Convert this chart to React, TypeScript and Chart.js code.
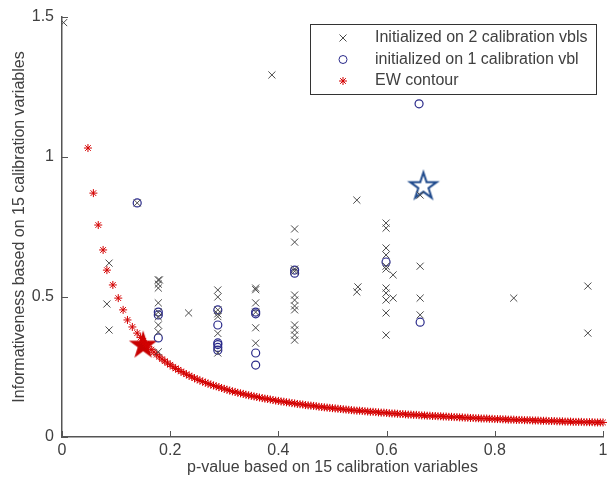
import React, { useEffect, useRef } from 'react';
import { Chart, registerables } from 'chart.js';
Chart.register(...registerables);

// ---- data ----
const xTickValues = [0, 0.2, 0.4, 0.6, 0.8, 1];
const yTickValues = [0, 0.5, 1, 1.5];

const legendLabels = [
  'Initialized on 2 calibration vbls',
  'initialized on 1 calibration vbl',
  'EW contour',
];

const twoVblP = [
  0.003, 0.388, 0.139, 0.087, 0.083, 0.087, 0.234,
  0.178, 0.18, 0.178, 0.178, 0.178, 0.178, 0.178, 0.178, 0.178, 0.178,
  0.288, 0.288, 0.288, 0.288, 0.288, 0.288, 0.288,
  0.358, 0.358, 0.358, 0.358, 0.358, 0.358,
  0.43, 0.43, 0.43, 0.43, 0.43, 0.43, 0.43, 0.43, 0.43, 0.43, 0.43, 0.43,
  0.545, 0.547, 0.545,
  0.599, 0.599, 0.599, 0.599, 0.599, 0.599, 0.599, 0.599, 0.599, 0.599, 0.599,
  0.612, 0.612,
  0.662, 0.662, 0.662, 0.662,
  0.835, 0.972, 0.972,
];
const twoVblInf = [
  1.48, 1.293, 0.836, 0.621, 0.475, 0.382, 0.443,
  0.561, 0.561, 0.546, 0.532, 0.479, 0.446, 0.429, 0.4, 0.375, 0.304,
  0.525, 0.5, 0.454, 0.43, 0.37, 0.44, 0.3,
  0.532, 0.526, 0.479, 0.446, 0.39, 0.335,
  0.743, 0.696, 0.6, 0.592, 0.507, 0.489, 0.468, 0.454, 0.4, 0.382, 0.364, 0.346,
  0.846, 0.536, 0.518,
  0.764, 0.746, 0.675, 0.65, 0.61, 0.6, 0.532, 0.514, 0.489, 0.443, 0.364,
  0.579, 0.496,
  0.864, 0.61, 0.496, 0.436,
  0.496, 0.539, 0.371,
];

const oneVblP = [
  0.139, 0.66,
  0.178, 0.178, 0.178,
  0.288, 0.288, 0.288, 0.288, 0.288, 0.288,
  0.358, 0.358, 0.358, 0.358,
  0.43, 0.43,
  0.599, 0.662,
];
const oneVblInf = [
  0.836, 1.19,
  0.446, 0.436, 0.354,
  0.454, 0.4, 0.336, 0.33, 0.31, 0.32,
  0.446, 0.44, 0.3, 0.257,
  0.596, 0.585,
  0.625, 0.41,
];

const ewP = [
  0.048, 0.058, 0.067, 0.076, 0.083, 0.094, 0.104, 0.113, 0.121, 0.13, 0.139,
  0.15, 0.16, 0.17, 0.18, 0.19, 0.2, 0.21, 0.22, 0.23, 0.24, 0.25, 0.26, 0.27, 0.28, 0.29,
  0.3, 0.31, 0.32, 0.33, 0.34, 0.35, 0.36, 0.37, 0.38, 0.39,
  0.4, 0.41, 0.42, 0.43, 0.44, 0.45, 0.46, 0.47, 0.48, 0.49,
  0.5, 0.51, 0.52, 0.53, 0.54, 0.55, 0.56, 0.57, 0.58, 0.59,
  0.6, 0.61, 0.62, 0.63, 0.64, 0.65, 0.66, 0.67, 0.68, 0.69,
  0.7, 0.71, 0.72, 0.73, 0.74, 0.75, 0.76, 0.77, 0.78, 0.79,
  0.8, 0.81, 0.82, 0.83, 0.84, 0.85, 0.86, 0.87, 0.88, 0.89,
  0.9, 0.91, 0.92, 0.93, 0.94, 0.95, 0.96, 0.97, 0.98, 0.99, 1.0,
];
const ewInf = [
  1.032, 0.871, 0.757, 0.668, 0.596, 0.543, 0.496, 0.454, 0.418, 0.393, 0.371,
  0.343, 0.322, 0.303, 0.286, 0.271, 0.258, 0.245, 0.234, 0.224, 0.215, 0.206, 0.198, 0.191, 0.184, 0.178,
  0.172, 0.166, 0.161, 0.156, 0.151, 0.147, 0.143, 0.139, 0.136, 0.132,
  0.129, 0.126, 0.123, 0.12, 0.117, 0.114, 0.112, 0.11, 0.107, 0.105,
  0.103, 0.101, 0.099, 0.097, 0.095, 0.094, 0.092, 0.09, 0.089, 0.087,
  0.086, 0.084, 0.083, 0.082, 0.08, 0.079, 0.078, 0.077, 0.076, 0.075,
  0.074, 0.073, 0.072, 0.071, 0.07, 0.069, 0.068, 0.067, 0.066, 0.065,
  0.064, 0.064, 0.063, 0.062, 0.061, 0.061, 0.06, 0.059, 0.059, 0.058,
  0.057, 0.057, 0.056, 0.055, 0.055, 0.054, 0.054, 0.053, 0.053, 0.052, 0.052,
];
// the denser half of the contour band
const ewP2 = [
  0.145, 0.155, 0.165, 0.175, 0.185, 0.195, 0.205, 0.215, 0.225, 0.235, 0.245,
  0.255, 0.265, 0.275, 0.285, 0.295, 0.305, 0.315, 0.325, 0.335, 0.345,
  0.355, 0.365, 0.375, 0.385, 0.395, 0.405, 0.415, 0.425, 0.435, 0.445,
  0.455, 0.465, 0.475, 0.485, 0.495, 0.505, 0.515, 0.525, 0.535, 0.545,
  0.555, 0.565, 0.575, 0.585, 0.595, 0.605, 0.615, 0.625, 0.635, 0.645,
  0.655, 0.665, 0.675, 0.685, 0.695, 0.705, 0.715, 0.725, 0.735, 0.745,
  0.755, 0.765, 0.775, 0.785, 0.795, 0.805, 0.815, 0.825, 0.835, 0.845,
  0.855, 0.865, 0.875, 0.885, 0.895, 0.905, 0.915, 0.925, 0.935, 0.945,
  0.955, 0.965, 0.975, 0.985, 0.995,
];
const ewInf2 = [
  0.355, 0.332, 0.312, 0.294, 0.278, 0.264, 0.251, 0.24, 0.229, 0.219, 0.21,
  0.202, 0.194, 0.187, 0.181, 0.175, 0.169, 0.163, 0.158, 0.154, 0.149,
  0.145, 0.141, 0.137, 0.134, 0.13, 0.127, 0.124, 0.121, 0.118, 0.116,
  0.113, 0.111, 0.108, 0.106, 0.104, 0.102, 0.1, 0.098, 0.096, 0.094,
  0.093, 0.091, 0.09, 0.088, 0.087, 0.085, 0.084, 0.082, 0.081, 0.08,
  0.079, 0.077, 0.076, 0.075, 0.074, 0.073, 0.072, 0.071, 0.07, 0.069,
  0.068, 0.067, 0.066, 0.066, 0.065, 0.064, 0.063, 0.062, 0.062, 0.061,
  0.06, 0.06, 0.059, 0.058, 0.058, 0.057, 0.056, 0.056, 0.055, 0.054,
  0.054, 0.053, 0.053, 0.052, 0.052,
];

const redStarP = [0.15];
const redStarInf = [0.327];
const blueStarP = [0.668];
const blueStarInf = [0.895];

const xTitle = 'p-value based on 15 calibration variables';
const yTitle = 'Informativeness based on 15 calibration variables';

// ---- styles ----
const CROSS_COLOR = '#4a4a4a';
const CIRCLE_COLOR = '#2a2a8a';
const EW_COLOR = '#d40000';
const AXIS_COLOR = '#555555';
const TEXT_COLOR = '#404040';
const FONT_FAMILY = '"Liberation Sans", Arial, sans-serif';
const FONT_SIZE = 16;

function makeStar(R: number, fill: string | null, stroke: string | null, lw: number) {
  const pad = Math.ceil(lw) + 2;
  const size = Math.ceil(2 * R + 2 * pad);
  const c = document.createElement('canvas');
  c.width = size;
  c.height = size;
  const ctx = c.getContext('2d')!;
  const cx = size / 2;
  const cy = size / 2;
  const r = R * 0.382;
  ctx.beginPath();
  for (let i = 0; i < 10; i++) {
    const ang = -Math.PI / 2 + (i * Math.PI) / 5;
    const rr = i % 2 === 0 ? R : r;
    const px = cx + rr * Math.cos(ang);
    const py = cy + rr * Math.sin(ang);
    if (i === 0) ctx.moveTo(px, py);
    else ctx.lineTo(px, py);
  }
  ctx.closePath();
  if (fill) {
    ctx.fillStyle = fill;
    ctx.fill();
  }
  if (stroke) {
    ctx.strokeStyle = stroke;
    ctx.lineWidth = lw;
    ctx.lineJoin = 'miter';
    ctx.stroke();
  }
  return c;
}

const zip = (xs: number[], ys: number[]) => xs.map((x, i) => ({ x, y: ys[i] }));

const inwardTicksPlugin = {
  id: 'inwardTicks',
  afterDraw(chart: any) {
    const { ctx, chartArea, scales } = chart;
    ctx.save();
    ctx.strokeStyle = AXIS_COLOR;
    ctx.lineWidth = 1;
    ctx.beginPath();
    xTickValues.forEach((v) => {
      const px = Math.round(scales.x.getPixelForValue(v)) + 0.5;
      ctx.moveTo(px, chartArea.bottom);
      ctx.lineTo(px, chartArea.bottom - 6);
    });
    yTickValues.forEach((v) => {
      const py = Math.round(scales.y.getPixelForValue(v)) + 0.5;
      ctx.moveTo(chartArea.left, py);
      ctx.lineTo(chartArea.left + 6, py);
    });
    ctx.stroke();
    ctx.restore();
  },
};

const legendBoxPlugin = {
  id: 'legendBox',
  afterDraw(chart: any) {
    const { ctx } = chart;
    const left = 310.5;
    const top = 24.5;
    const w = 286;
    const h = 70;
    ctx.save();
    ctx.fillStyle = '#ffffff';
    ctx.fillRect(left, top, w, h);
    ctx.strokeStyle = '#333333';
    ctx.lineWidth = 1;
    ctx.strokeRect(left, top, w, h);
    const mx = 343;
    const rows = [38, 59.5, 81];
    ctx.strokeStyle = CROSS_COLOR;
    ctx.beginPath();
    const d = 3.5;
    ctx.moveTo(mx - d, rows[0] - d);
    ctx.lineTo(mx + d, rows[0] + d);
    ctx.moveTo(mx - d, rows[0] + d);
    ctx.lineTo(mx + d, rows[0] - d);
    ctx.stroke();
    ctx.strokeStyle = CIRCLE_COLOR;
    ctx.beginPath();
    ctx.arc(mx, rows[1], 4, 0, Math.PI * 2);
    ctx.stroke();
    ctx.strokeStyle = EW_COLOR;
    ctx.beginPath();
    for (let k = 0; k < 4; k++) {
      const a = (k * Math.PI) / 4;
      ctx.moveTo(mx - 4 * Math.cos(a), rows[2] - 4 * Math.sin(a));
      ctx.lineTo(mx + 4 * Math.cos(a), rows[2] + 4 * Math.sin(a));
    }
    ctx.stroke();
    ctx.fillStyle = TEXT_COLOR;
    ctx.font = `${FONT_SIZE}px ${FONT_FAMILY}`;
    ctx.textBaseline = 'middle';
    ctx.textAlign = 'left';
    legendLabels.forEach((t, i) => ctx.fillText(t, 375, rows[i]));
    ctx.restore();
  },
};

export default function App() {
  const ref = useRef<HTMLCanvasElement | null>(null);
  useEffect(() => {
    if (!ref.current) return;
    const redStar = makeStar(15, '#c80000', null, 0);
    const blueStar = makeStar(14, null, '#1f4a8c', 2);
    const chart = new Chart(ref.current, {
      type: 'scatter',
      data: {
        datasets: [
          {
            label: legendLabels[0],
            data: zip(twoVblP, twoVblInf),
            pointStyle: 'crossRot',
            pointRadius: 5,
            borderColor: CROSS_COLOR,
            backgroundColor: 'transparent',
            pointBorderWidth: 1,
          },
          {
            label: legendLabels[1],
            data: zip(oneVblP, oneVblInf),
            pointStyle: 'circle',
            pointRadius: 4,
            borderColor: CIRCLE_COLOR,
            backgroundColor: 'transparent',
            pointBorderWidth: 1.2,
          },
          {
            label: legendLabels[2],
            data: zip(ewP, ewInf).concat(zip(ewP2, ewInf2)),
            pointStyle: 'star',
            pointRadius: 4,
            borderColor: EW_COLOR,
            backgroundColor: 'transparent',
            pointBorderWidth: 1,
            clip: false,
          },
          {
            label: 'best',
            data: zip(redStarP, redStarInf),
            pointStyle: redStar as any,
            pointRadius: 15,
            clip: false,
          },
          {
            label: 'star',
            data: zip(blueStarP, blueStarInf),
            pointStyle: blueStar as any,
            pointRadius: 15,
            clip: false,
          },
        ] as any,
      },
      options: {
        animation: false,
        responsive: false,
        events: [],
        layout: { autoPadding: false, padding: { top: 17, right: 5, left: 0, bottom: 0 } },
        plugins: {
          legend: { display: false },
          tooltip: { enabled: false },
        },
        scales: {
          x: {
            type: 'linear',
            min: 0,
            max: 1,
            afterFit: (s: any) => {
              s.height = 52;
              s.paddingLeft = 0;
              s.paddingRight = 0;
            },
            afterBuildTicks: (s: any) => {
              s.ticks = xTickValues.map((v) => ({ value: v }));
            },
            grid: { display: false, drawTicks: false },
            border: { display: true, color: AXIS_COLOR, width: 1.5 },
            ticks: {
              color: TEXT_COLOR,
              font: { family: FONT_FAMILY, size: FONT_SIZE },
              padding: 4,
              maxRotation: 0,
              callback: (v: any) => String(v),
            },
            title: {
              display: true,
              text: xTitle,
              color: TEXT_COLOR,
              font: { family: FONT_FAMILY, size: FONT_SIZE },
              padding: { top: 0, bottom: 12 },
            },
          },
          y: {
            type: 'linear',
            min: 0,
            max: 1.5,
            afterFit: (s: any) => {
              s.width = 62;
              s.paddingTop = 0;
              s.paddingBottom = 0;
            },
            afterBuildTicks: (s: any) => {
              s.ticks = yTickValues.map((v) => ({ value: v }));
            },
            grid: { display: false, drawTicks: false },
            border: { display: true, color: AXIS_COLOR, width: 1.5 },
            ticks: {
              color: TEXT_COLOR,
              font: { family: FONT_FAMILY, size: FONT_SIZE },
              padding: 8,
              callback: (v: any) => String(v),
            },
            title: {
              display: true,
              text: yTitle,
              color: TEXT_COLOR,
              font: { family: FONT_FAMILY, size: FONT_SIZE },
              padding: { top: 10, bottom: 0 },
            },
          },
        },
      } as any,
      plugins: [inwardTicksPlugin, legendBoxPlugin],
    });
    return () => chart.destroy();
  }, []);
  return (
    <div style={{ position: 'fixed', left: 0, top: 0, width: 608, height: 489, background: '#ffffff' }}>
      <canvas ref={ref} width={608} height={489} style={{ display: 'block' }} />
    </div>
  );
}
